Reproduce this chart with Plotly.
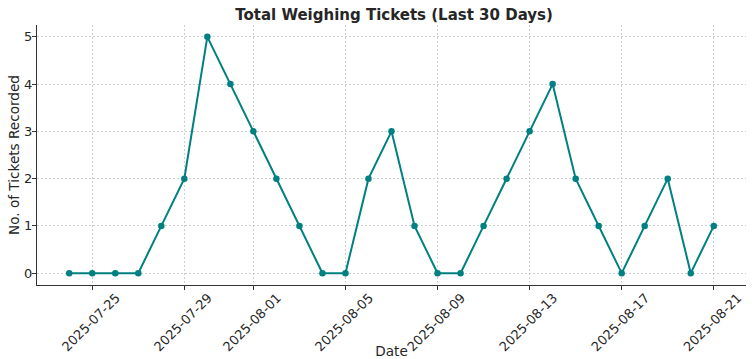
import plotly.graph_objects as go

dates = ["2025-07-24", "2025-07-25", "2025-07-26", "2025-07-27", "2025-07-28", "2025-07-29",
         "2025-07-30", "2025-07-31", "2025-08-01", "2025-08-02", "2025-08-03", "2025-08-04",
         "2025-08-05", "2025-08-06", "2025-08-07", "2025-08-08", "2025-08-09", "2025-08-10",
         "2025-08-11", "2025-08-12", "2025-08-13", "2025-08-14", "2025-08-15", "2025-08-16",
         "2025-08-17", "2025-08-18", "2025-08-19", "2025-08-20", "2025-08-21"]
tickets = [0, 0, 0, 0, 1, 2, 5, 4, 3, 2, 1, 0, 0, 2, 3, 1, 0, 0, 1, 2, 3, 4, 2, 1, 0, 1, 2, 0, 1]
x_ticks = ["2025-07-25", "2025-07-29", "2025-08-01", "2025-08-05", "2025-08-09",
           "2025-08-13", "2025-08-17", "2025-08-21"]
y_ticks = [0, 1, 2, 3, 4, 5]

font = "DejaVu Sans"
fig = go.Figure()
fig.add_trace(go.Scatter(
    x=dates, y=tickets, mode="lines+markers",
    line=dict(color="#008080", width=2),
    marker=dict(color="#008080", size=6.5),
))

fig.update_layout(
    width=752, height=359,
    margin=dict(l=37, r=6, t=25, b=74),
    paper_bgcolor="white", plot_bgcolor="white",
    showlegend=False,
    font=dict(family=font, size=13, color="#262626"),
    title=dict(text="<b>Total Weighing Tickets (Last 30 Days)</b>", x=0.524, xanchor="center",
               y=0.96, yanchor="middle", font=dict(family=font, size=15, color="#262626")),
)
fig.update_xaxes(
    type="date", automargin=False,
    range=["2025-07-22 14:24", "2025-08-22 09:36"],
    tickvals=x_ticks, ticktext=x_ticks,
    tickangle=-45, ticklabelshift=24, ticklabelstandoff=-5,
    ticks="outside", ticklen=4, tickcolor="#333333",
    showline=True, linecolor="#333333", linewidth=1.2,
    showgrid=True, gridcolor="#cfcfcf", griddash="2px,2px", gridwidth=0.8,
    zeroline=False,
    title=dict(text="Date", font=dict(family=font, size=13.6), standoff=18),
    tickfont=dict(family=font, size=13, color="#262626"),
)
fig.update_yaxes(
    automargin=False,
    range=[-0.25, 5.25],
    tickvals=y_ticks,
    ticks="outside", ticklen=4, tickcolor="#333333",
    ticklabelstandoff=-3,
    showline=True, linecolor="#333333", linewidth=1.2,
    showgrid=True, gridcolor="#cfcfcf", griddash="2px,2px", gridwidth=0.8,
    zeroline=False,
    title=dict(text="No. of Tickets Recorded", font=dict(family=font, size=13.6), standoff=1),
    tickfont=dict(family=font, size=13, color="#262626"),
)

fig.write_html("out.html", config={"displayModeBar": False},
               post_script="document.body.style.margin='0';")
